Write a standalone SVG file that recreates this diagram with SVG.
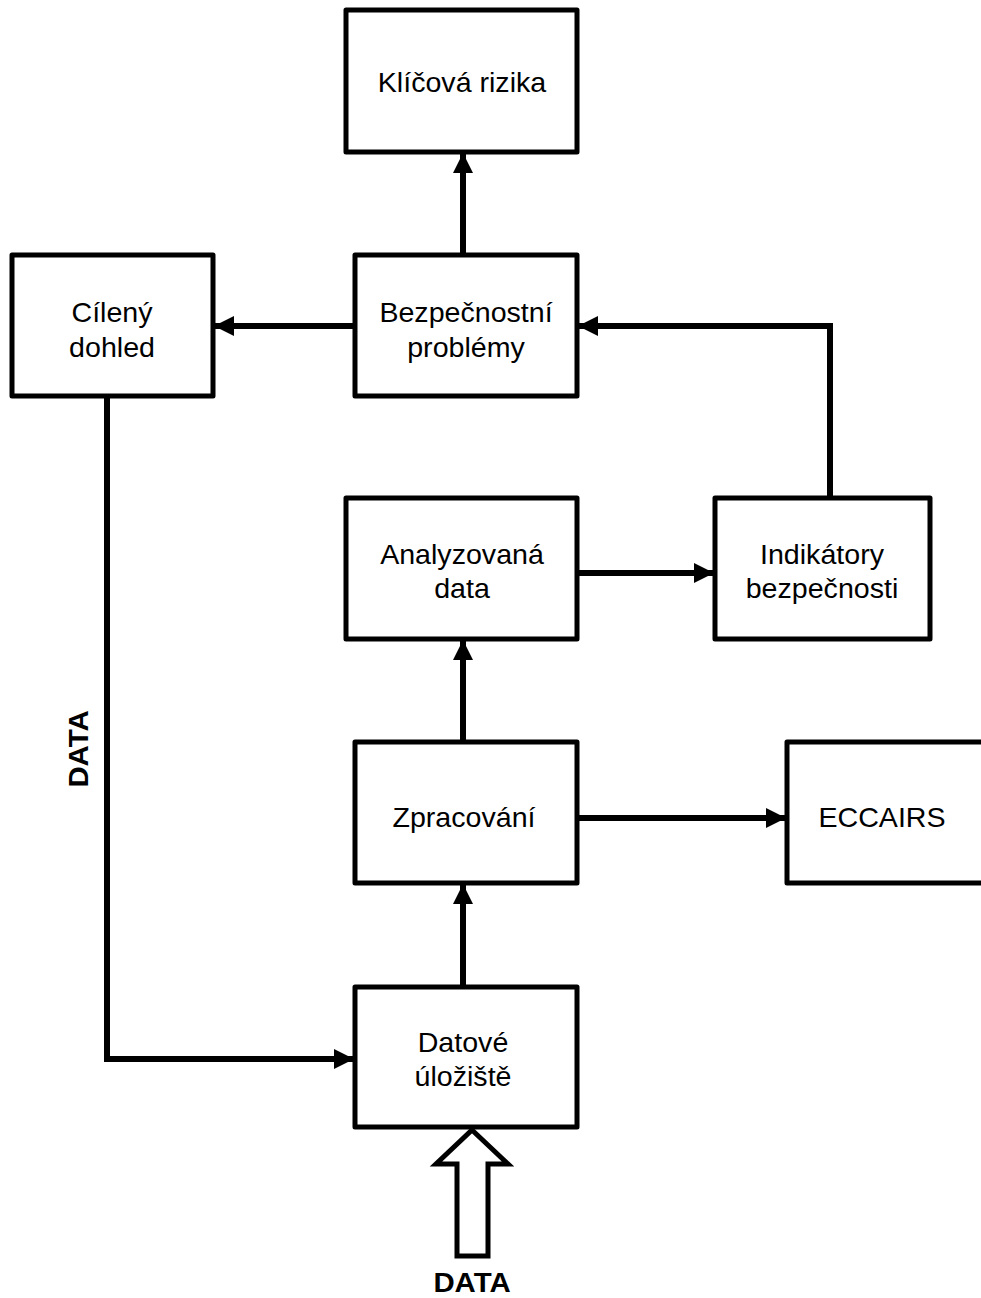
<svg xmlns="http://www.w3.org/2000/svg" width="981" height="1298" viewBox="0 0 981 1298">
  <style>
    .box { fill: #ffffff; stroke: #000000; stroke-width: 5; stroke-linejoin: round; }
    .lbl { font-family: "Liberation Sans", Arial, sans-serif; font-size: 27.5px; fill: #000000; text-anchor: middle; }
    .tag { font-family: "Liberation Sans", Arial, sans-serif; font-size: 28px; font-weight: bold; fill: #000000; text-anchor: middle; }
    .wire { fill: none; stroke: #000000; stroke-width: 6; marker-end: url(#head); }
    .hollow { fill: #ffffff; stroke: #000000; stroke-width: 5; stroke-linejoin: miter; }
  </style>
  <defs>
    <marker id="head" markerUnits="userSpaceOnUse" markerWidth="20" markerHeight="22" refX="20" refY="10" orient="auto">
      <path d="M0,0 L20,10 L0,20 Z" fill="#000000"/>
    </marker>
  </defs>
  <rect width="981" height="1298" fill="#ffffff"/>

  <!-- connectors -->
  <g id="connectors">
    <path class="wire" d="M463,255 V153"/>
    <path class="wire" d="M355,326 H214"/>
    <path class="wire" d="M830,498 V326 H578"/>
    <path class="wire" d="M577,573 H714"/>
    <path class="wire" d="M463,742 V640"/>
    <path class="wire" d="M577,818 H786"/>
    <path class="wire" d="M463,987 V884"/>
    <path class="wire" d="M107,396 V1059 H354"/>
    <!-- incoming data, drawn as an outlined block arrow -->
    <path class="hollow" d="M472,1130 L508,1164 L488,1164 L488,1256 L457,1256 L457,1164 L436,1164 Z"/>
    <text class="tag" transform="translate(472 1292) scale(1.05 1)">DATA</text>
    <text class="tag" transform="translate(88 749) rotate(-90) scale(1.05 1)">DATA</text>
  </g>

  <g id="klicova-rizika">
    <rect class="box" x="346" y="10" width="231" height="142"/>
    <text class="lbl" transform="translate(462 92) scale(1.04 1)">Klíčová rizika</text>
  </g>

  <g id="cileny-dohled">
    <rect class="box" x="12" y="255" width="201" height="141"/>
    <text class="lbl" transform="translate(112 322) scale(1.04 1)"><tspan x="0">Cílený</tspan><tspan x="0" dy="35">dohled</tspan></text>
  </g>

  <g id="bezpecnostni-problemy">
    <rect class="box" x="355" y="255" width="222" height="141"/>
    <text class="lbl" transform="translate(466 322) scale(1.04 1)"><tspan x="0">Bezpečnostní</tspan><tspan x="0" dy="35">problémy</tspan></text>
  </g>

  <g id="analyzovana-data">
    <rect class="box" x="346" y="498" width="231" height="141"/>
    <text class="lbl" transform="translate(462 564) scale(1.04 1)"><tspan x="0">Analyzovaná</tspan><tspan x="0" dy="34">data</tspan></text>
  </g>

  <g id="indikatory-bezpecnosti">
    <rect class="box" x="715" y="498" width="215" height="141"/>
    <text class="lbl" transform="translate(822 564) scale(1.04 1)"><tspan x="0">Indikátory</tspan><tspan x="0" dy="34">bezpečnosti</tspan></text>
  </g>

  <g id="zpracovani">
    <rect class="box" x="355" y="742" width="222" height="141"/>
    <text class="lbl" transform="translate(464 827) scale(1.04 1)">Zpracování</text>
  </g>

  <g id="eccairs">
    <rect class="box" x="787" y="742" width="230" height="141"/>
    <text class="lbl" transform="translate(882 827) scale(1.04 1)">ECCAIRS</text>
  </g>

  <g id="datove-uloziste">
    <rect class="box" x="355" y="987" width="222" height="140"/>
    <text class="lbl" transform="translate(463 1052) scale(1.04 1)"><tspan x="0">Datové</tspan><tspan x="0" dy="34">úložiště</tspan></text>
  </g>
</svg>
